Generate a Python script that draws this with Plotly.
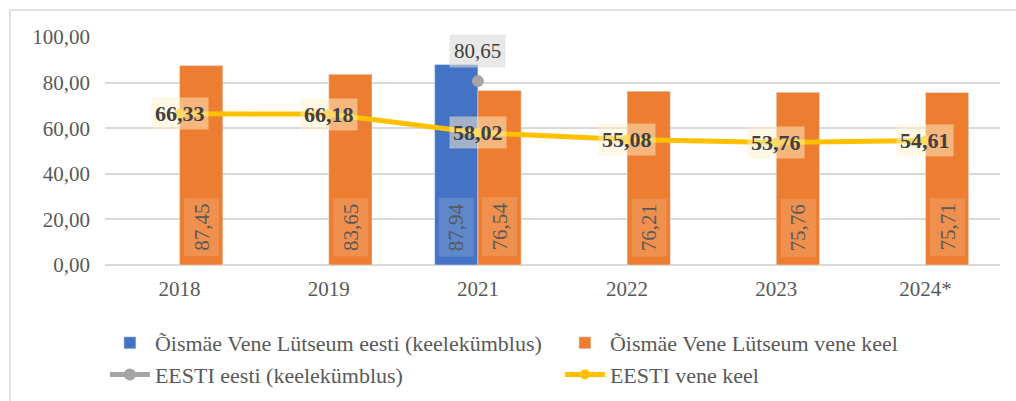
import plotly.graph_objects as go

categories = ['2018', '2019', '2021', '2022', '2023', '2024*']
oismae_eesti = [None, None, 87.94, None, None, None]
oismae_vene = [87.45, 83.65, 76.54, 76.21, 75.76, 75.71]
eesti_eesti = [None, None, 80.65, None, None, None]
eesti_vene = [66.33, 66.18, 58.02, 55.08, 53.76, 54.61]
y_ticks = [0, 20, 40, 60, 80, 100]

BLUE = '#4472C4'
ORANGE = '#ED7D31'
GRAY = '#A5A5A5'
YELLOW = '#FFC000'
TXT = '#595959'
FONT = 'Liberation Serif'

W, H = 1016, 401
ML, MR, MT, MB = 105, 16, 37, 136
PW, PH = W - ML - MR, H - MT - MB
BARGAP = 0.42
bar_w = PW / len(categories) * (1 - BARGAP) / 2


def fmt(v):
    return f"{v:.2f}".replace('.', ',')


fig = go.Figure()
fig.add_trace(go.Bar(x=categories, y=oismae_eesti, name='Õismäe Vene Lütseum eesti (keelekümblus)',
                     marker_color=BLUE))
fig.add_trace(go.Bar(x=categories, y=oismae_vene, name='Õismäe Vene Lütseum vene keel',
                     marker_color=ORANGE))
fig.add_trace(go.Scatter(x=categories, y=eesti_eesti, name='EESTI eesti (keelekümblus)',
                         mode='lines+markers', line=dict(color=GRAY, width=5),
                         marker=dict(color=GRAY, size=12)))
fig.add_trace(go.Scatter(x=categories, y=eesti_vene, name='EESTI vene keel',
                         mode='lines+markers', line=dict(color=YELLOW, width=5),
                         marker=dict(color=YELLOW, size=10)))

# data labels (category index i positions the label on the category axis)
annotations = []
for series, shift in ((oismae_eesti, -bar_w / 2), (oismae_vene, bar_w / 2)):
    for i, v in enumerate(series):
        if v is None:
            continue
        annotations.append(dict(x=i, y=0, xref='x', yref='y', text=fmt(v),
                                showarrow=False, textangle=-90, xshift=shift, yshift=8,
                                yanchor='bottom',
                                font=dict(family=FONT, size=21, color=TXT),
                                bgcolor='rgba(255,255,255,0.15)', borderpad=5))
for i, v in enumerate(eesti_vene):
    annotations.append(dict(x=i, y=v, xref='x', yref='y',
                            text='<b>' + fmt(v) + '</b>',
                            showarrow=False, font=dict(family=FONT, size=22, color='#404040'),
                            bgcolor='rgba(255,242,204,0.5)', borderpad=3))
for i, v in enumerate(eesti_eesti):
    if v is None:
        continue
    annotations.append(dict(x=i, y=v, xref='x', yref='y', text=fmt(v),
                            showarrow=False, yshift=30,
                            font=dict(family=FONT, size=21, color='#404040'),
                            bgcolor='rgba(217,217,217,0.6)', borderpad=4))

# outer chart frame
shapes = [dict(type='rect', xref='paper', yref='paper',
               x0=(10 - ML) / PW, x1=(W + 5 - ML) / PW,
               y0=(H - MB - (H + 5)) / PH, y1=(H - MB - 10) / PH,
               line=dict(color='#D9D9D9', width=1.5), fillcolor='rgba(0,0,0,0)',
               layer='below')]

fig.update_layout(
    width=W, height=H,
    margin=dict(l=ML, r=MR, t=MT, b=MB, autoexpand=False),
    paper_bgcolor='white', plot_bgcolor='white',
    barmode='group', bargap=BARGAP, bargroupgap=0,
    font=dict(family=FONT, size=21, color=TXT),
    annotations=annotations, shapes=shapes,
    legend=dict(orientation='h', x=-0.0001, xanchor='left', y=-0.25, yanchor='top',
                entrywidth=400, entrywidthmode='pixels',
                font=dict(family=FONT, size=22, color=TXT), itemwidth=40,
                tracegroupgap=0),
    xaxis=dict(type='category', categoryorder='array', categoryarray=categories,
               showgrid=False, showline=False, ticks='', ticklabelstandoff=9,
               tickfont=dict(size=21, color=TXT)),
    yaxis=dict(range=[0, 100], tickvals=y_ticks, ticktext=[fmt(t) for t in y_ticks],
               showgrid=True,
               gridcolor='#D9D9D9', gridwidth=1.5, zeroline=True, zerolinecolor='#D9D9D9',
               zerolinewidth=1.5, showline=False, ticks='', ticklabelstandoff=14,
               tickfont=dict(size=21, color=TXT)),
)

fig.write_html('out.html', config={'displayModeBar': False},
               post_script="document.body.style.margin='0';"
                           "document.body.style.overflow='hidden';")
